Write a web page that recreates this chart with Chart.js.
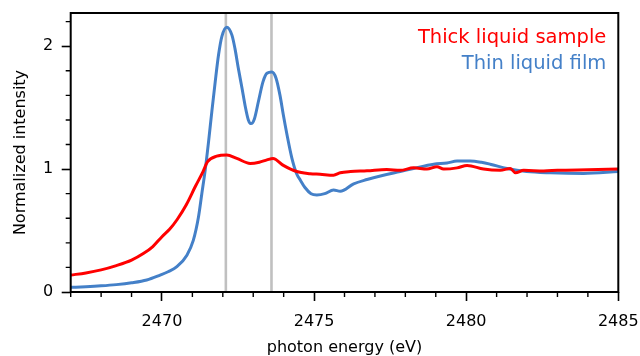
<!DOCTYPE html>
<html><head><meta charset="utf-8">
<script src="https://cdn.jsdelivr.net/npm/chart.js@4/dist/chart.umd.min.js"></script>
<style>html,body{margin:0;padding:0;background:#fff;}canvas{display:block;}</style>
</head><body>
<canvas id="c" width="640" height="356"></canvas>
<script>
// ---- data ----
const seriesLabels = ['Thick liquid sample', 'Thin liquid film'];
const thickEnergy = [2467.0,2467.5,2468.0,2468.5,2469.0,2469.4,2469.7,2470.0,2470.25,2470.5,2470.8,2471.1,2471.35,2471.5,2471.8,2472.13,2472.46,2472.9,2473.2,2473.45,2473.65,2473.99,2474.43,2474.87,2475.2,2475.64,2475.86,2476.2,2476.74,2477.39,2477.83,2478.27,2478.71,2479.04,2479.26,2479.7,2480.03,2480.57,2481.12,2481.45,2481.62,2481.89,2482.55,2483.0,2484.0,2485.0];
const thickIntensity = [0.138,0.155,0.18,0.215,0.26,0.315,0.37,0.45,0.51,0.59,0.71,0.86,0.98,1.06,1.105,1.115,1.087,1.046,1.056,1.075,1.087,1.03,0.98,0.963,0.958,0.95,0.97,0.98,0.986,0.997,0.99,1.01,1.0,1.02,1.0,1.01,1.03,1.0,0.99,1.005,0.97,0.99,0.985,0.99,0.995,1.0];
const thinEnergy = [2467.0,2467.5,2468.0,2468.5,2469.0,2469.5,2469.94,2470.2,2470.49,2470.82,2471.03,2471.2,2471.31,2471.42,2471.53,2471.64,2471.75,2471.86,2471.97,2472.13,2472.3,2472.4,2472.51,2472.63,2472.73,2472.84,2472.93,2473.04,2473.17,2473.32,2473.45,2473.61,2473.75,2473.88,2473.99,2474.11,2474.27,2474.43,2474.55,2474.7,2474.9,2475.09,2475.35,2475.64,2475.86,2476.3,2476.74,2477.28,2477.83,2478.27,2478.93,2479.37,2479.7,2480.13,2480.5,2480.79,2481.34,2481.99,2482.77,2483.86,2485.0];
const thinIntensity = [0.038,0.043,0.05,0.06,0.075,0.098,0.138,0.165,0.206,0.30,0.42,0.61,0.80,0.99,1.22,1.47,1.71,1.93,2.08,2.155,2.09,1.98,1.82,1.66,1.52,1.40,1.37,1.41,1.55,1.71,1.78,1.79,1.74,1.60,1.44,1.28,1.09,0.96,0.91,0.85,0.80,0.79,0.80,0.83,0.82,0.88,0.915,0.95,0.98,1.005,1.04,1.05,1.065,1.065,1.055,1.04,1.005,0.98,0.97,0.965,0.98];
const xTickValues = [2470, 2475, 2480, 2485];
const yTickValues = [0, 1, 2];
const markerEnergies = [2472.1, 2473.6];
const xTitle = 'photon energy (eV)';
const yTitle = 'Normalized intensity';

const FONT = "'DejaVu Sans', 'Liberation Sans', sans-serif";
const RED = '#ff0000';
const BLUE = '#4480c8';

const toPoints = (xs, ys) => xs.map((x, i) => ({x: x, y: ys[i]}));

const decorPlugin = {
  id: 'decor',
  beforeDatasetsDraw(chart) {
    const {ctx, chartArea: a, scales: {x}} = chart;
    ctx.save();
    ctx.strokeStyle = '#c0c0c0';
    ctx.lineWidth = 2.6;
    markerEnergies.forEach(e => {
      const px = x.getPixelForValue(e);
      ctx.beginPath(); ctx.moveTo(px, a.top); ctx.lineTo(px, a.bottom); ctx.stroke();
    });
    ctx.restore();
  },
  afterDraw(chart) {
    const {ctx, chartArea: a, scales: {x, y}} = chart;
    ctx.save();
    ctx.strokeStyle = '#000';
    ctx.lineWidth = 2;
    ctx.strokeRect(a.left, a.top, a.right - a.left, a.bottom - a.top);
    ctx.lineWidth = 1.4;
    ctx.beginPath();
    for (let v = Math.ceil(x.min); v <= x.max; v += 1) {
      if (v % 5 === 0) continue;
      const px = x.getPixelForValue(v);
      ctx.moveTo(px, a.bottom); ctx.lineTo(px, a.bottom + 5);
    }
    for (let k = 1; k * 0.2 <= y.max; k++) {
      if (k % 5 === 0) continue;
      const py = y.getPixelForValue(k * 0.2);
      ctx.moveTo(a.left, py); ctx.lineTo(a.left - 5, py);
    }
    ctx.stroke();
    ctx.font = "19.5px " + FONT;
    ctx.textAlign = 'right';
    ctx.textBaseline = 'alphabetic';
    chart.data.datasets.forEach((ds, i) => {
      ctx.fillStyle = ds.borderColor;
      ctx.fillText(ds.label, a.right - 12, a.top + 29.5 + i * 26.7);
    });
    ctx.restore();
  }
};

new Chart(document.getElementById('c'), {
  type: 'line',
  data: {
    datasets: [
      {label: seriesLabels[0], data: toPoints(thickEnergy, thickIntensity), borderColor: RED, borderWidth: 3, pointRadius: 0, cubicInterpolationMode: 'monotone', fill: false},
      {label: seriesLabels[1], data: toPoints(thinEnergy, thinIntensity), borderColor: BLUE, borderWidth: 3, pointRadius: 0, cubicInterpolationMode: 'monotone', fill: false}
    ]
  },
  options: {
    responsive: false,
    animation: false,
    devicePixelRatio: 1,
    layout: {padding: {top: 13, right: 21.7, left: 0, bottom: 0}},
    plugins: {legend: {display: false}, tooltip: {enabled: false}},
    scales: {
      x: {
        type: 'linear', min: 2467, max: 2485,
        afterFit(s) { s.height = 64; s.paddingLeft = 0; s.paddingRight = 0; },
        afterBuildTicks(s) { s.ticks = xTickValues.map(v => ({value: v})); },
        grid: {drawOnChartArea: false, drawTicks: true, tickLength: 9, tickWidth: 1.6, tickColor: '#000'},
        border: {display: false},
        ticks: {color: '#000', font: {family: FONT, size: 16}, padding: 11, maxRotation: 0, callback: v => String(v)},
        title: {display: true, text: xTitle, color: '#000', font: {family: FONT, size: 16, lineHeight: 1}, padding: {top: 0, bottom: 0}}
      },
      y: {
        type: 'linear', min: 0, max: 2.27,
        afterFit(s) { s.width = 70.7; s.paddingTop = 0; s.paddingBottom = 0; },
        afterBuildTicks(s) { s.ticks = yTickValues.map(v => ({value: v})); },
        grid: {drawOnChartArea: false, drawTicks: true, tickLength: 9, tickWidth: 1.6, tickColor: '#000'},
        border: {display: false},
        ticks: {color: '#000', font: {family: FONT, size: 16}, padding: 8.5, callback: v => String(v)},
        title: {display: true, text: yTitle, color: '#000', font: {family: FONT, size: 16, lineHeight: 1}, padding: {top: 12.5, bottom: 0}}
      }
    }
  },
  plugins: [decorPlugin]
});
</script>
</body></html>
